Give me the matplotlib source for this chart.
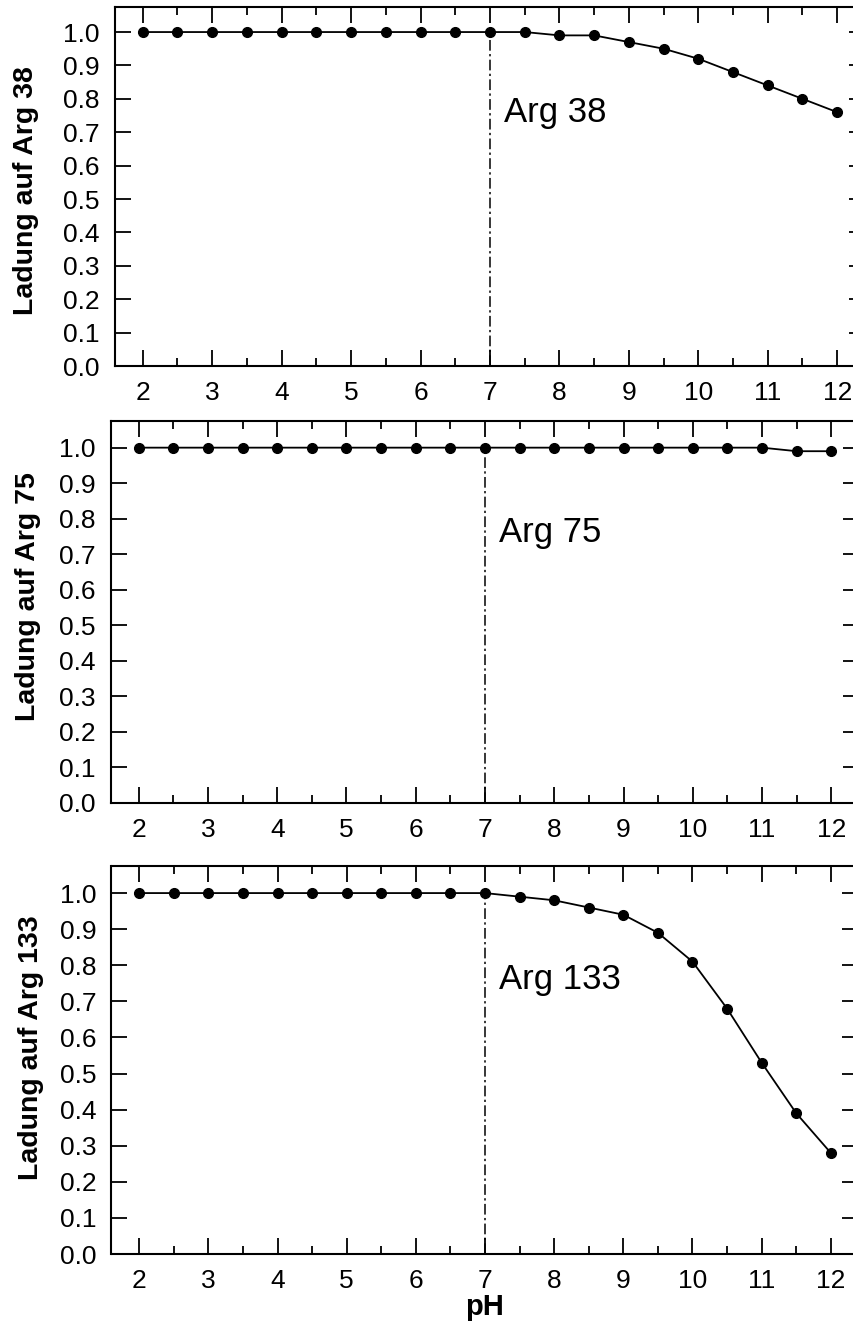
import numpy as np
from matplotlib import pyplot as plt
from matplotlib.ticker import MultipleLocator

plt.rcParams['font.family'] = ['Liberation Sans', 'DejaVu Sans']

# pH values (every 0.5 from 2 to 12)
ph = [2.0, 2.5, 3.0, 3.5, 4.0, 4.5, 5.0, 5.5, 6.0, 6.5, 7.0,
      7.5, 8.0, 8.5, 9.0, 9.5, 10.0, 10.5, 11.0, 11.5, 12.0]

# Charge on each arginine residue
charge_arg38 = [1.00, 1.00, 1.00, 1.00, 1.00, 1.00, 1.00, 1.00, 1.00, 1.00, 1.00,
                1.00, 0.99, 0.99, 0.97, 0.95, 0.92, 0.88, 0.84, 0.80, 0.76]
charge_arg75 = [1.00, 1.00, 1.00, 1.00, 1.00, 1.00, 1.00, 1.00, 1.00, 1.00, 1.00,
                1.00, 1.00, 1.00, 1.00, 1.00, 1.00, 1.00, 1.00, 0.99, 0.99]
charge_arg133 = [1.00, 1.00, 1.00, 1.00, 1.00, 1.00, 1.00, 1.00, 1.00, 1.00, 1.00,
                 0.99, 0.98, 0.96, 0.94, 0.89, 0.81, 0.68, 0.53, 0.39, 0.28]

residue_names = ['Arg 38', 'Arg 75', 'Arg 133']
ylabels = ['Ladung auf Arg 38', 'Ladung auf Arg 75', 'Ladung auf Arg 133']
neutral_ph = 7

# Figure size in pixels
W, H = 854, 1334

# Axes boxes in pixels: left, top, width, bottom
boxes = [(115, 7, 750, 366),
         (111, 421, 748, 803),
         (111.5, 866, 747, 1254)]
# y-label positions in axes coordinates
label_pos = [(-0.102, 0.49), (-0.094, 0.54), (-0.090, 0.531)]


def panel(ax, y, name, ylabel, lpos):
    ax.plot(ph, y, color='black', lw=1.3, marker='o', markersize=7,
            markerfacecolor='black', markeredgecolor='black', zorder=3)
    ax.plot([neutral_ph, neutral_ph], [0, 1], color='black', lw=1.1,
            dashes=(7, 2.2, 1.5, 2.2), zorder=2)
    ax.text(7.2, 0.76, name, fontsize=25, va='center', ha='left')

    ax.set_xlim(1.6, 12.4)
    ax.set_ylim(0, 1.075)
    ax.xaxis.set_major_locator(MultipleLocator(1))
    ax.xaxis.set_minor_locator(MultipleLocator(0.5))
    ax.yaxis.set_major_locator(MultipleLocator(0.1))
    ax.yaxis.set_major_formatter(plt.FormatStrFormatter('%.1f'))
    ax.set_xticks(range(2, 13))

    ax.tick_params(axis='both', which='major', direction='in', length=11.5,
                   width=1.3, labelsize=19, top=True, right=True)
    ax.tick_params(axis='x', which='minor', direction='in', length=6,
                   width=1.3, top=True, bottom=True)
    ax.tick_params(axis='x', which='major', pad=11)
    ax.tick_params(axis='y', which='major', pad=11)
    for s in ax.spines.values():
        s.set_linewidth(1.5)

    ax.set_ylabel(ylabel, fontsize=20.5, fontweight='bold')
    ax.yaxis.set_label_coords(*lpos)


fig = plt.figure(figsize=(W / 100, H / 100), dpi=100)
data = [charge_arg38, charge_arg75, charge_arg133]
axes = []
for (l, t, w, b), y, name, yl, lp in zip(boxes, data, residue_names, ylabels, label_pos):
    ax = fig.add_axes([l / W, 1 - b / H, w / W, (b - t) / H])
    panel(ax, y, name, yl, lp)
    axes.append(ax)

axes[2].set_xlabel('pH', fontsize=21, fontweight='bold', labelpad=0)

fig.savefig('out.png', dpi=100)
